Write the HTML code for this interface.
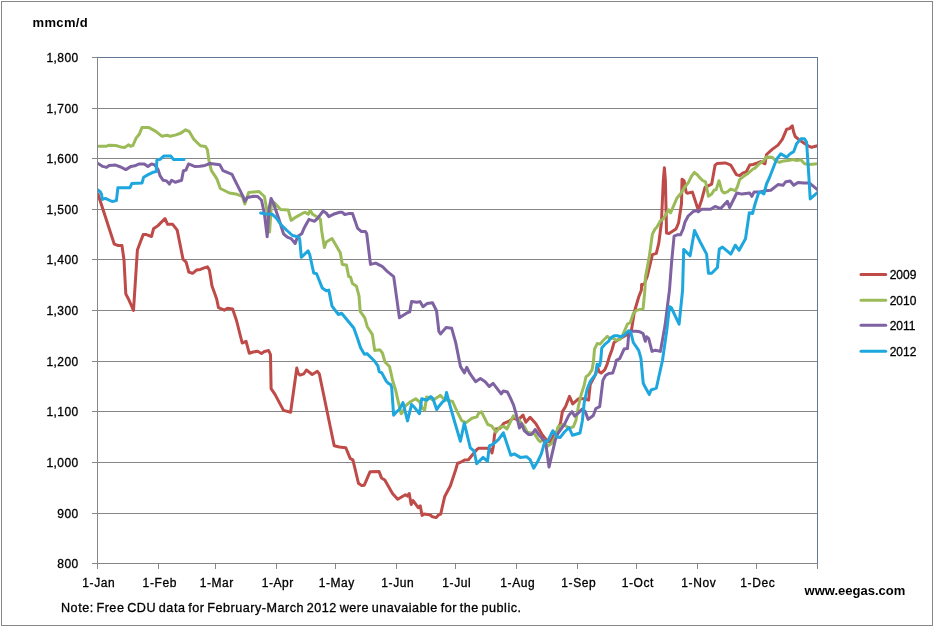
<!DOCTYPE html>
<html><head><meta charset="utf-8"><title>chart</title>
<style>
html,body{margin:0;padding:0;background:#fff;}
body{width:934px;height:627px;overflow:hidden;position:relative;}
svg{position:absolute;left:0;top:0;display:block;}
text{font-family:"Liberation Sans",Arial,sans-serif;fill:#000;stroke:#000;stroke-width:0.3px;}
</style></head><body>
<svg width="934" height="627" viewBox="0 0 934 627">
<rect x="0" y="0" width="934" height="627" fill="#fff"/>
<rect x="1.5" y="1.5" width="931" height="624" fill="none" stroke="#868686" stroke-width="1"/>

<line x1="92" y1="57.5" x2="97" y2="57.5" stroke="#868686"/>
<line x1="97" y1="57.5" x2="818" y2="57.5" stroke="#637895"/>
<line x1="92" y1="108.5" x2="818" y2="108.5" stroke="#868686"/>
<line x1="92" y1="158.5" x2="818" y2="158.5" stroke="#868686"/>
<line x1="92" y1="209.5" x2="818" y2="209.5" stroke="#868686"/>
<line x1="92" y1="259.5" x2="818" y2="259.5" stroke="#868686"/>
<line x1="92" y1="310.5" x2="818" y2="310.5" stroke="#868686"/>
<line x1="92" y1="361.5" x2="818" y2="361.5" stroke="#868686"/>
<line x1="92" y1="411.5" x2="818" y2="411.5" stroke="#868686"/>
<line x1="92" y1="462.5" x2="818" y2="462.5" stroke="#868686"/>
<line x1="92" y1="513.5" x2="818" y2="513.5" stroke="#868686"/>
<line x1="92" y1="563.5" x2="818" y2="563.5" stroke="#868686"/>
<defs><clipPath id="pc"><rect x="97.5" y="40" width="720" height="560"/></clipPath></defs>
<polyline points="97.5,193.5 98.2,194.8 103.5,211 114.3,244.2 118.1,245.5 122,245.6 124,260 125.8,293.8 129,300.2 133.5,310.5 137.4,250 140,243 143.2,234.6 146.4,234.6 151.5,236.5 153.5,228.8 158,225.6 165,218.5 167.6,224.3 172.7,224.3 177.2,230.1 183,259.1 186.2,262.3 188.8,272 192.6,273.3 196.5,270.1 200.4,269.4 204.2,267.9 207.4,266.8 209.4,270.1 212,286 216.6,298.7 218.5,307.7 224.3,310.2 227.5,308.3 232.6,309 236.5,320.5 242.2,343 246.1,341.4 249.3,353.3 253.1,352 257.6,351.3 261.5,353.5 264,351.7 268.5,350.4 270.5,354.6 271.1,388.6 275,394.4 283.5,410.4 290.6,412.3 296.8,368 298.1,373.2 300,375.1 303.9,373.8 306.4,370 312.2,374.5 317.4,371.3 319.3,373.8 334.2,445.8 339.4,447 345.8,447.7 350.3,458.6 352.9,459.9 358.5,483.3 361.7,485.6 364.3,485.2 370.1,471.7 379,471.4 381.6,478.1 384.8,480.1 392.5,493.5 397.7,499.3 405.4,494.8 407.3,496.1 409.2,493.5 411.2,504.5 413.1,500.6 418.2,507.7 420.2,505.8 422.1,515.4 424,514.1 429.8,514.7 432.4,516.7 436.2,517.6 438.8,514.7 440.7,514.1 444.6,496.8 450.4,485.8 455.6,470 457.6,463.2 460.1,462.5 464.6,460 468.4,459.7 472.9,454.2 477.3,449.1 479.2,448.2 486.9,448.2 490.7,449.1 492,453 493.3,446.6 494.5,435.1 496,429 499.9,428.4 503.8,423.3 509.2,421.1 513.6,418 517.9,420.1 523,415.1 525.8,422.3 530.1,417.3 535.9,423.7 541.6,433.8 545.9,439.5 547.8,441 550.2,442.4 554.5,433.8 556.7,432 560.5,423.1 562.4,411.6 565.6,406.5 569.5,396.3 572.7,403.9 578.4,398.8 583.5,398.8 588.6,400.1 590.2,384.5 595.5,374.5 597.2,366.5 599.4,372 601.1,373.1 604.7,369.9 607.1,364.3 609.5,356.4 611.9,350 614.1,342.4 617.4,340.2 625.2,335.7 629.7,332.4 631.6,329.3 634.3,312 638.7,297 641.4,290 641.6,284.5 644.1,284.5 647.3,276.2 652.4,254.6 656.3,253.3 658.8,243.1 661.4,222.7 663.3,180.7 664.4,167.8 665.4,180.7 666.3,220 666.5,233 669,233.5 676,229 678.6,222.7 681.5,203.5 682,179.2 684.1,180.7 686.1,192.1 687.2,193.2 692.4,192.1 697.5,207.7 698.3,209.7 701.7,199.7 705,187.4 711.7,184.1 715.1,165.1 717.3,163.4 725.1,162.9 728.5,164.2 730.7,165.1 736.3,174.6 739.6,175.7 743,172.9 746.3,171.8 749.7,165.1 753,164.5 757.5,162.9 760.7,161.6 765,163.8 766.5,154.5 772.2,149.4 778,145.1 782.3,139.4 786.6,129.3 789.4,128.6 792.3,125.8 793.7,132.2 795.2,136.5 799.5,140.1 803.8,143 808.1,145.8 811.7,147.3 817.4,145.8" fill="none" stroke="#be4b48" stroke-width="3" stroke-linejoin="round" stroke-linecap="round" clip-path="url(#pc)"/>
<polyline points="97.6,146.2 106.6,146.2 109.1,145.2 115.6,145.5 120.7,146.9 124.6,147.4 128.7,144.8 130.3,146.2 132.9,145.5 136.1,138.1 139.3,134.3 141.9,127.6 149,127.6 155.4,131.1 161.8,136.2 167,135.3 170.2,136.2 176,134.9 181.1,133 185.6,129.8 189.4,131.7 193.9,139.4 200.4,145.8 205.5,146.5 207.4,149.7 208.9,160.3 211.4,170.6 216.6,178.3 220.4,188.5 229.4,193 237.1,194.3 242.3,196.3 244.8,204 248.7,192.4 259,191.5 264.4,196.5 266.7,208.9 269.6,231.9 271.5,203 274.4,202.7 280.6,209.4 288.3,210.1 291.1,220.4 295.9,217.1 303.6,212.8 305,212.3 308.2,214.3 310.1,210.4 312.7,214.3 315.9,216.2 319.1,218.1 320.4,219.4 321.7,231 324.4,247.5 326.3,242 332,238.5 335.8,245.1 340.3,252.8 342.3,264.4 346.4,265 348.7,276.6 350.6,277.2 352.5,283.6 356.4,286.2 359,295.8 360.2,311.3 364.7,317.7 367.3,326.7 372.3,334.4 374.7,350.4 379.8,349.8 382.4,353 385,362 389.5,366.5 391.4,374.8 392.5,380 395.5,389.7 398.9,404.7 401.1,413.7 403,411.5 405.2,406.2 410.5,401.7 415.7,398.7 419.5,401.7 422.5,408.5 424.7,410 426.6,396.9 430,398 433,400.2 437.5,397.2 440.5,395.4 443.5,398.7 447.2,400.2 452.6,401.5 456.6,410.5 461.7,420.7 466.1,422.6 471.9,418.2 477,416.9 478.3,413.7 481.4,411.8 484,416.9 487.8,424.5 491.6,425.8 496.1,432.2 499.9,427.1 503.8,426.4 506.9,429 513.3,415.8 518.2,419 524.4,426.6 527.3,432.3 534.4,433.8 538.4,440 540.1,441.6 543.9,439.7 547.8,446.1 551.6,443.5 555.4,437.1 558,426.9 563.1,424.4 569.5,428.2 573.3,426.9 575.9,420.5 578.4,406.5 581,395 584,385.9 586,376.7 588.8,374.7 592,369.9 593.5,361.2 594.5,349.1 597.3,343.5 600.1,344.1 602.9,340.8 607.4,336.3 609.6,338.5 613,338 615.8,340.2 619.7,339.6 621.9,336.8 627.5,324 630.3,322.5 633.3,313.5 636.4,310.4 643.1,308.6 644.9,290 645.4,277.5 649.2,257.1 652.4,234.1 655,229 656.9,227.1 659.4,222.7 660.2,221.1 663.3,219.1 668.5,209.7 670.6,212.8 673.7,205.6 676.8,198.3 681,193.2 684.1,188 688.2,182.8 691.3,176.6 694.4,172.4 697.5,175 699.5,177.4 702.8,180.7 705.6,181.8 708.4,196.3 711.7,194.1 714,190.2 716.2,189.6 719,180.7 721.8,190.7 724,193 727.4,191.9 730.7,189.1 735.2,190.7 737.4,186.8 739.6,179.6 743,176.8 748.6,172.9 753,169 755,168.1 759.3,163.8 763.6,160.9 766.5,156.9 772.2,157.3 775.8,160.9 779.4,162.3 783.7,160.9 788,160.6 793.7,159.5 796.6,160.6 800.9,159.8 804.5,163.8 809.5,164.5 817.4,163.8" fill="none" stroke="#9bbb59" stroke-width="3" stroke-linejoin="round" stroke-linecap="round" clip-path="url(#pc)"/>
<polyline points="97.6,163.2 102.7,166.4 106.6,167.4 109.1,165.5 115.6,165.1 120.7,167 125.8,169.6 131,166.4 134.8,165.8 138.7,164.1 144.3,164 147.9,166.5 151.5,164 154.4,164.7 158,169.4 160.1,175.9 163,180.2 166.6,180.9 169.4,184.1 171.6,180.2 175.2,182.3 181.6,180.2 183.4,170.8 185.9,170.1 188.5,164 191.7,165.1 194.6,166.5 200,166.2 205,165.4 210.1,163.5 219.8,164.8 223,170.6 232,174.4 235.8,182.1 241,192.4 243.5,197.5 244.8,201.4 247.4,197.5 253.8,196.3 257.7,196.5 261.5,200.3 264.4,213.7 267.2,236.7 269.1,208.9 271.1,198.4 273.4,203.2 278.7,218.5 283.5,233.8 287.3,237.2 291.1,238.6 295.2,243.5 297.6,236.6 301.7,233.8 304.1,228.2 305.5,225.5 308.9,219.4 314.6,221.3 317.8,218.1 323,211.1 326.2,213 328.8,216.6 333.3,214.3 339.7,212.3 342.3,212.3 344.8,214.5 348.7,213.6 352.5,213.6 357.7,228.4 361.5,231.6 365.4,231.6 366.7,233.5 370.5,264.4 375.7,263.1 382.1,266.3 387.2,271.4 393.7,276.6 399.4,317.7 406.5,313.2 409.7,311.9 411.6,301.6 416.8,302.3 420,301.6 423,306.7 427,303.6 432.5,302.8 436.5,310.7 438.9,331.5 440.5,333.9 446.1,327.5 451.7,328.3 455.7,342.6 460.5,366.6 464.4,372.9 466.8,367.4 470,373.7 475.6,381.7 480.4,378.5 485.2,381.7 489.2,386.5 493.1,383.3 501.2,393.9 503.3,391 507.4,392 510,397.1 513.6,405.1 516.4,415 519.4,428 521.5,423.7 524.4,430.9 528.7,434.5 531.6,434.5 535.1,429.5 538.7,434.5 543,439.5 545.5,441.5 549,467.1 555.4,439.7 558,433.3 564.4,424.4 568.8,415.4 572,411.6 574.6,416.1 578.4,412.9 582.2,409 585,411.1 588.2,419.4 593.3,415.5 595.9,408.5 599.7,406.6 602.9,380.4 605.5,375.5 608.7,373.5 612.7,373.1 615.1,365.9 616.3,360.3 619.7,358.6 624.1,349.1 627.5,348.6 628.6,335.7 630.8,331.3 636.4,331.3 639.8,331.8 643.1,333.5 645.3,341.3 646.5,336.8 648.7,338.5 652,351.4 655.4,350.2 660.4,351.4 665.1,325.1 667.7,304 669.5,290 671.6,262.2 674.1,236.1 677.3,234.8 680.5,234.8 683.1,229 685,222 688.2,216 693.4,211.3 697.5,210.8 698.3,211.9 701.7,209.2 710.6,209.2 715.1,206.4 720.7,208.6 727.4,201.3 729.6,207.5 736.8,193 741.9,194.1 749.7,193 751.9,196.3 754.1,191.9 759.7,191.9 765.3,190.7 770.8,190.3 778,184.6 783,185.3 785.8,181.7 790.2,181 793.7,185.3 798,182.4 803.8,183.1 809.5,183.1 813.8,186.7 817.4,189.6" fill="none" stroke="#7e62a1" stroke-width="3" stroke-linejoin="round" stroke-linecap="round" clip-path="url(#pc)"/>
<polyline points="97.6,189.8 100.2,191.7 101.6,194.4 102.3,199.4 105.4,198.4 112.1,201.5 116.4,200.6 117.9,187.7 130,187.7 131.8,183.6 142,183 143.6,177.3 148.6,174.4 152.9,172.3 156.2,171.6 156.9,160.1 160.1,159.4 163.7,156.1 170.9,156.1 173.4,159.4 184,159.4" fill="none" stroke="#1ea7de" stroke-width="3" stroke-linejoin="round" stroke-linecap="round" clip-path="url(#pc)"/>
<polyline points="260.7,213.1 264.4,213.7 272,214.2 275.8,217.5 280.6,224.2 286.4,230 292.5,235.5 299,237 299.8,240.2 301.3,257.3 308.1,250.9 309.7,254.5 313.7,273 316.6,273.8 322.3,288.1 326.2,290.7 328.8,290.1 332,306.1 338.4,314.5 341.6,313.2 353.8,328 357,337 360.6,347.8 364.4,354.3 367,353.6 374.7,361.3 377.9,365.8 379.2,371.6 381.8,372.9 386.3,381.3 388.4,383.4 390.5,384.3 391.7,387.5 393.6,415.2 396.2,412.2 399.2,409.6 403,402.5 407.5,420.9 411.6,404.4 415,408.1 419.5,413.7 421.7,398.7 427,400.2 430.7,396.5 433,398.7 436.7,409.6 439,406.2 442.7,401.7 445,400.2 446.5,392.5 448.9,401.6 454.7,422 460.4,441.3 464.3,423 470.3,447.9 474.1,451 476.7,463.8 483.1,457.4 487.5,461.3 489.4,445.9 493.3,444 498.4,439.6 503.3,432.8 510.8,455.3 514.3,453.9 520.1,457.4 526.5,456.7 530.1,459.6 533.7,468.2 538,461 541.4,453.7 544.6,442.2 547.8,441 552.9,430.7 557,437 560.3,437.4 564.4,432 569,427.5 572.5,435.3 580,433 582.4,420.5 584.2,402.7 587.2,389 590.4,381.1 595.9,373.9 597.1,364.3 599.5,365.9 600.7,360.4 601.8,348 605.1,344.1 608.5,341.3 610.7,338 614.1,335.7 617.4,335.7 620.8,336.8 624.1,335.2 628.6,330.7 630.8,332.4 633.3,342.5 638.7,350.3 640.9,358.1 643.2,383 645,386.8 649.3,394.4 651.1,390 656.3,388.2 662.5,360.2 666.8,330.4 669.5,306.7 671.2,307.5 679.1,324.2 682.6,290 683.7,249.4 690.1,255.8 694.5,230.4 700.2,242 706.6,254.1 708.5,273.3 711.7,273.3 717.4,267.5 719.3,249 722.5,247.1 727,250.9 730.8,254.1 735.3,245.2 739.1,250.3 745.5,238.8 749.3,212.7 752.5,213.5 755.2,203.5 758.6,193 760.8,191.9 763.9,194 766.5,184 769.5,177.5 776.5,159.5 780.8,153.7 786.6,157.3 790.2,153.7 793.7,151.6 796.6,143.7 800.9,138.7 804.5,138.7 806.6,142.3 808.8,175.3 810.2,198.9 817.4,192.5" fill="none" stroke="#1ea7de" stroke-width="3" stroke-linejoin="round" stroke-linecap="round" clip-path="url(#pc)"/>
<line x1="817.5" y1="57" x2="817.5" y2="563" stroke="#637895"/>
<line x1="97.5" y1="57" x2="97.5" y2="569" stroke="#868686"/>
<line x1="158.5" y1="563" x2="158.5" y2="569" stroke="#868686"/>
<line x1="215.5" y1="563" x2="215.5" y2="569" stroke="#868686"/>
<line x1="276.5" y1="563" x2="276.5" y2="569" stroke="#868686"/>
<line x1="335.5" y1="563" x2="335.5" y2="569" stroke="#868686"/>
<line x1="396.5" y1="563" x2="396.5" y2="569" stroke="#868686"/>
<line x1="455.5" y1="563" x2="455.5" y2="569" stroke="#868686"/>
<line x1="516.5" y1="563" x2="516.5" y2="569" stroke="#868686"/>
<line x1="577.5" y1="563" x2="577.5" y2="569" stroke="#868686"/>
<line x1="636.5" y1="563" x2="636.5" y2="569" stroke="#868686"/>
<line x1="697.5" y1="563" x2="697.5" y2="569" stroke="#868686"/>
<line x1="756.5" y1="563" x2="756.5" y2="569" stroke="#868686"/>
<line x1="817.5" y1="563" x2="817.5" y2="569" stroke="#868686"/>
<text x="78.7" y="61.8" font-size="12" text-anchor="end" letter-spacing="0.45">1,800</text>
<text x="78.7" y="112.8" font-size="12" text-anchor="end" letter-spacing="0.45">1,700</text>
<text x="78.7" y="162.8" font-size="12" text-anchor="end" letter-spacing="0.45">1,600</text>
<text x="78.7" y="213.8" font-size="12" text-anchor="end" letter-spacing="0.45">1,500</text>
<text x="78.7" y="263.8" font-size="12" text-anchor="end" letter-spacing="0.45">1,400</text>
<text x="78.7" y="314.8" font-size="12" text-anchor="end" letter-spacing="0.45">1,300</text>
<text x="78.7" y="365.8" font-size="12" text-anchor="end" letter-spacing="0.45">1,200</text>
<text x="78.7" y="415.8" font-size="12" text-anchor="end" letter-spacing="0.45">1,100</text>
<text x="78.7" y="466.8" font-size="12" text-anchor="end" letter-spacing="0.45">1,000</text>
<text x="78.7" y="517.8" font-size="12" text-anchor="end" letter-spacing="0.45">900</text>
<text x="78.7" y="567.8" font-size="12" text-anchor="end" letter-spacing="0.45">800</text>
<text x="98.8" y="586.5" font-size="12" text-anchor="middle" letter-spacing="0.6">1-Jan</text>
<text x="159.8" y="586.5" font-size="12" text-anchor="middle" letter-spacing="0.6">1-Feb</text>
<text x="216.8" y="586.5" font-size="12" text-anchor="middle" letter-spacing="0.6">1-Mar</text>
<text x="277.8" y="586.5" font-size="12" text-anchor="middle" letter-spacing="0.6">1-Apr</text>
<text x="336.8" y="586.5" font-size="12" text-anchor="middle" letter-spacing="0.6">1-May</text>
<text x="397.8" y="586.5" font-size="12" text-anchor="middle" letter-spacing="0.6">1-Jun</text>
<text x="456.8" y="586.5" font-size="12" text-anchor="middle" letter-spacing="0.6">1-Jul</text>
<text x="517.8" y="586.5" font-size="12" text-anchor="middle" letter-spacing="0.6">1-Aug</text>
<text x="578.8" y="586.5" font-size="12" text-anchor="middle" letter-spacing="0.6">1-Sep</text>
<text x="637.8" y="586.5" font-size="12" text-anchor="middle" letter-spacing="0.6">1-Oct</text>
<text x="698.8" y="586.5" font-size="12" text-anchor="middle" letter-spacing="0.6">1-Nov</text>
<text x="757.8" y="586.5" font-size="12" text-anchor="middle" letter-spacing="0.6">1-Dec</text>
<text x="32.5" y="26.6" font-size="13" font-weight="bold" letter-spacing="0.35" style="stroke-width:0">mmcm/d</text>
<line x1="861" y1="274.5" x2="885.7" y2="274.5" stroke="#be4b48" stroke-width="3" stroke-linecap="round"/>
<text x="889.7" y="278.8" font-size="12">2009</text>
<line x1="861" y1="300.2" x2="885.7" y2="300.2" stroke="#9bbb59" stroke-width="3" stroke-linecap="round"/>
<text x="889.7" y="304.5" font-size="12">2010</text>
<line x1="861" y1="325.3" x2="885.7" y2="325.3" stroke="#7e62a1" stroke-width="3" stroke-linecap="round"/>
<text x="889.7" y="329.6" font-size="12">2011</text>
<line x1="861" y1="351.2" x2="885.7" y2="351.2" stroke="#1ea7de" stroke-width="3" stroke-linecap="round"/>
<text x="889.7" y="355.5" font-size="12">2012</text>
<text x="61" y="611.7" font-size="12.6" word-spacing="-1.2" textLength="460" lengthAdjust="spacing">Note: Free CDU data for February-March 2012 were unavaiable for the public.</text>
<text x="804.6" y="594.7" font-size="13" font-weight="bold" style="stroke-width:0">www.eegas.com</text>
</svg>
</body></html>
